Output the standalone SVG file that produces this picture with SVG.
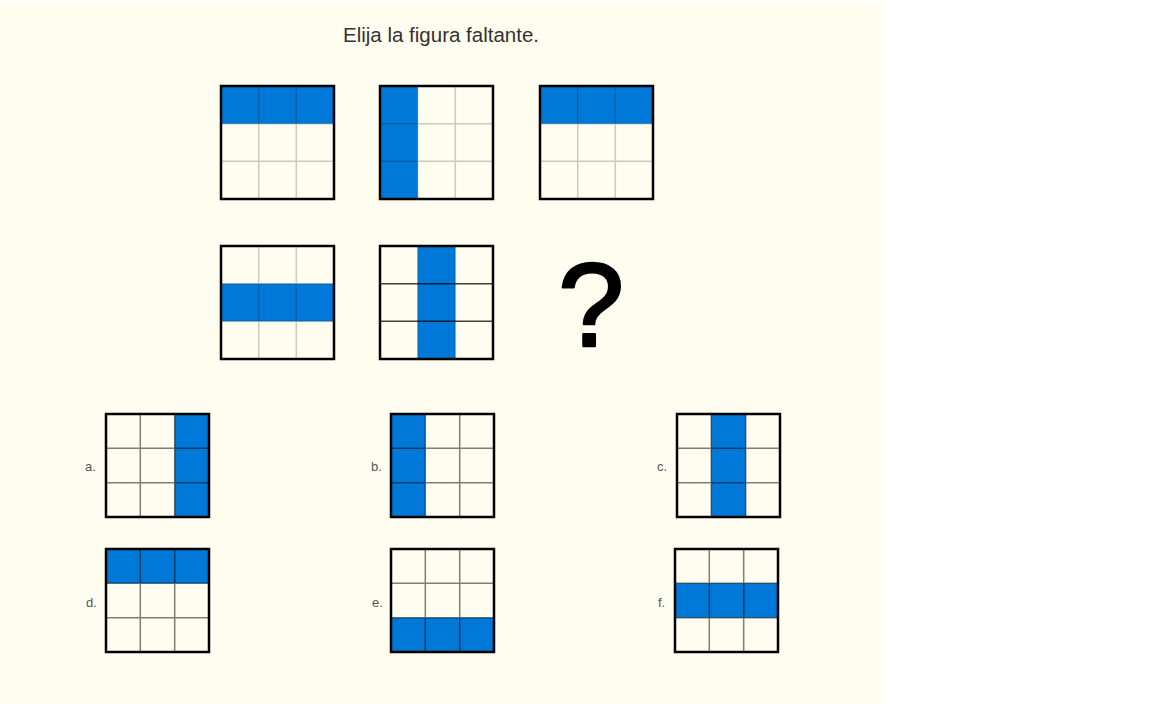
<svg xmlns="http://www.w3.org/2000/svg" width="1152" height="704" viewBox="0 0 1152 704">
<style>
.frame{fill:none;stroke:#000;stroke-width:2.5}
.blue{fill:#0078d7}
.gl{stroke:#000;stroke-opacity:0.2;stroke-width:1.5}
.ga{stroke:#000;stroke-opacity:0.5;stroke-width:1.5}
.gd{stroke:#000;stroke-opacity:0.75;stroke-width:1.5}
.lbl{font-family:"Liberation Sans",Arial,sans-serif;font-size:13px;fill:#555}
.title{font-family:"Liberation Sans",Arial,sans-serif;font-size:20.5px;fill:#333}
.q{font-family:"Liberation Sans",Arial,sans-serif;font-size:119px;fill:#000;stroke:#000;stroke-width:2.5;stroke-linejoin:round;stroke-linecap:round}
</style>
<rect x="0" y="0" width="1152" height="704" fill="#fff"/>
<rect x="0" y="2" width="882" height="702" fill="#fffdf0"/>
<text class="title" x="343" y="42">Elija la figura faltante.</text>

<g id="fig1">
<rect class="blue" x="221" y="86" width="113" height="37.7"/>
<path class="gl" d="M258.7 86V199M296.3 86V199M221 123.7H334M221 161.3H334"/>
<rect class="frame" x="221" y="86" width="113" height="113"/>
</g>
<g id="fig2">
<rect class="blue" x="380" y="86" width="37.7" height="113"/>
<path class="gl" d="M417.7 86V199M455.3 86V199M380 123.7H493M380 161.3H493"/>
<rect class="frame" x="380" y="86" width="113" height="113"/>
</g>
<g id="fig3">
<rect class="blue" x="540" y="86" width="113" height="37.7"/>
<path class="gl" d="M577.7 86V199M615.3 86V199M540 123.7H653M540 161.3H653"/>
<rect class="frame" x="540" y="86" width="113" height="113"/>
</g>
<g id="fig4">
<rect class="blue" x="221" y="283.7" width="113" height="37.6"/>
<path class="gl" d="M258.7 246V359M296.3 246V359M221 283.7H334M221 321.3H334"/>
<rect class="frame" x="221" y="246" width="113" height="113"/>
</g>
<g id="fig5">
<rect class="blue" x="417.7" y="246" width="37.6" height="113"/>
<path class="gl" d="M417.7 246V359M455.3 246V359"/>
<path class="gd" d="M380 283.7H493M380 321.3H493"/>
<rect class="frame" x="380" y="246" width="113" height="113"/>
</g>
<g id="question">
<text class="q" x="591" y="346" text-anchor="middle">?</text>
</g>

<g id="option-a">
<text class="lbl" x="85" y="471">a.</text>
<rect class="blue" x="174.7" y="414" width="34.3" height="103"/>
<path class="ga" d="M140.3 414V517M174.7 414V517M106 448.3H209M106 482.7H209"/>
<rect class="frame" x="106" y="414" width="103" height="103"/>
</g>
<g id="option-b">
<text class="lbl" x="371" y="471">b.</text>
<rect class="blue" x="391" y="414" width="34.3" height="103"/>
<path class="ga" d="M425.3 414V517M459.7 414V517M391 448.3H494M391 482.7H494"/>
<rect class="frame" x="391" y="414" width="103" height="103"/>
</g>
<g id="option-c">
<text class="lbl" x="657" y="471">c.</text>
<rect class="blue" x="711.3" y="414" width="34.4" height="103"/>
<path class="ga" d="M711.3 414V517M745.7 414V517M677 448.3H780M677 482.7H780"/>
<rect class="frame" x="677" y="414" width="103" height="103"/>
</g>
<g id="option-d">
<text class="lbl" x="86" y="607">d.</text>
<rect class="blue" x="106" y="549" width="103" height="34.3"/>
<path class="ga" d="M140.3 549V652M174.7 549V652M106 583.3H209M106 617.7H209"/>
<rect class="frame" x="106" y="549" width="103" height="103"/>
</g>
<g id="option-e">
<text class="lbl" x="372" y="607">e.</text>
<rect class="blue" x="391" y="617.7" width="103" height="34.3"/>
<path class="ga" d="M425.3 549V652M459.7 549V652M391 583.3H494M391 617.7H494"/>
<rect class="frame" x="391" y="549" width="103" height="103"/>
</g>
<g id="option-f">
<text class="lbl" x="658" y="607">f.</text>
<rect class="blue" x="675" y="583.3" width="103" height="34.4"/>
<path class="ga" d="M709.3 549V652M743.7 549V652M675 583.3H778M675 617.7H778"/>
<rect class="frame" x="675" y="549" width="103" height="103"/>
</g>
<g id="connectors"/>
</svg>
